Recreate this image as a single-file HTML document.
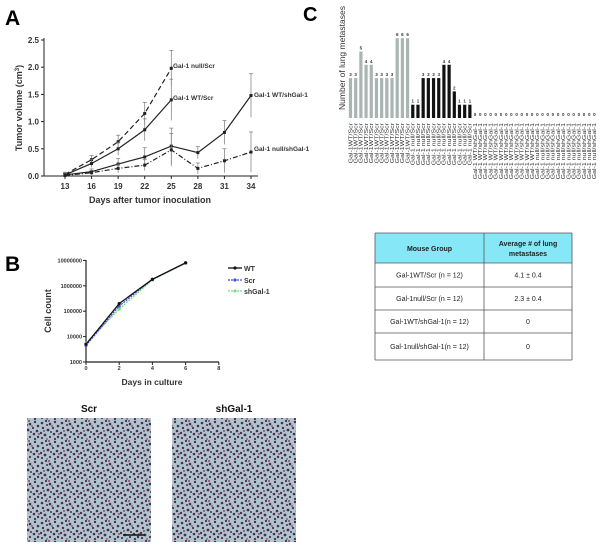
<!DOCTYPE html>
<html><head><meta charset="utf-8"><style>
html,body{margin:0;padding:0;background:#fff;}
svg{display:block;font-family:"Liberation Sans",Arial,sans-serif;}
</style></head><body>
<svg id="fig" width="600" height="547" viewBox="0 0 600 547" xmlns="http://www.w3.org/2000/svg">
<defs>
<pattern id="tissue" width="20" height="20" patternUnits="userSpaceOnUse">
<rect width="20" height="20" fill="#afc4cf"/>
<g fill="#4a2f4a">
<circle cx="2" cy="3" r="1.3"/><circle cx="6" cy="1" r="1.1"/><circle cx="10" cy="4" r="1.3"/><circle cx="15" cy="2" r="1.2"/><circle cx="18" cy="6" r="1.3"/>
<circle cx="3" cy="8" r="1.2"/><circle cx="8" cy="10" r="1.4"/><circle cx="13" cy="8" r="1.1"/><circle cx="17" cy="11" r="1.3"/><circle cx="1" cy="13" r="1.2"/>
<circle cx="5" cy="15" r="1.4"/><circle cx="10" cy="17" r="1.1"/><circle cx="14" cy="14" r="1.3"/><circle cx="18" cy="17" r="1.2"/><circle cx="2" cy="18" r="1.1"/>
<circle cx="11" cy="12" r="1"/><circle cx="15" cy="19" r="1.1"/><circle cx="7" cy="5" r="1"/>
</g>
<g fill="#8a4a62"><circle cx="9" cy="1" r="1"/><circle cx="19" cy="14" r="1"/><circle cx="4" cy="11" r="1"/><circle cx="12" cy="6" r="0.9"/><circle cx="7" cy="19" r="0.9"/></g>
</pattern>
</defs>
<g id="panelA"></g>
<g id="panelB"></g>
<g id="panelC"></g>
<g id="table"></g>
<g id="images"></g>
</svg>
<script>
// ---- Panel A data ----
const aDays = [13,16,19,22,25,28,31,34];
const aYTicks = [0,0.5,1.0,1.5,2.0,2.5];
const nullScr = [0.03,0.3,0.63,1.15,1.98];
const nullScrErr = [0.04,0.08,0.12,0.2,0.33];
const wtScr = [0.02,0.23,0.5,0.85,1.4];
const wtScrErr = [0.03,0.07,0.12,0.2,0.38];
const wtSh = [0.02,0.08,0.22,0.35,0.55,0.43,0.8,1.48];
const wtShErr = [0.02,0.05,0.1,0.17,0.33,0.11,0.22,0.4];
const nullSh = [0.01,0.06,0.14,0.2,0.48,0.14,0.28,0.44];
const nullShErr = [0.01,0.04,0.08,0.1,0.3,0.1,0.22,0.37];
// ---- Panel B data ----
const bDays = [0,2,4,6];
const bXTicks = [0,2,4,6,8];
const bYTicks = [1000,10000,100000,1000000,10000000];
const bWT = [5000,200000,1800000,8000000];
const bScr = [4500,160000,1800000,8000000];
const bSh = [5500,120000,1700000,8000000];
// ---- Panel C data ----
const cGroups = ["Gal-1WT/Scr","Gal-1 null/Scr","Gal-1 WT/shGal-1","Gal-1 null/shGal-1"];
const cGray = [3,3,5,4,4,3,3,3,3,6,6,6];
const cBlack = [1,1,3,3,3,3,4,4,2,1,1,1];
const cZeroWT = [0,0,0,0,0,0,0,0,0,0,0,0];
const cZeroNull = [0,0,0,0,0,0,0,0,0,0,0,0];
// ---- Table data ----
const tHeader = ["Mouse Group","Average # of lung|metastases"];
const tRows = [["Gal-1WT/Scr (n = 12)","4.1 ± 0.4"],["Gal-1null/Scr (n = 12)","2.3 ± 0.4"],["Gal-1WT/shGal-1(n = 12)","0"],["Gal-1null/shGal-1(n = 12)","0"]];

const NS="http://www.w3.org/2000/svg";
function mk(tag,attrs,parent,txt){const e=document.createElementNS(NS,tag);for(const k in attrs)e.setAttribute(k,attrs[k]);if(txt!==undefined)e.textContent=txt;parent.appendChild(e);return e;}

// ===== Panel A =====
(function(){
const g=document.getElementById('panelA');
const xA=d=>65+(d-13)*8.857, yA=v=>176-v*54.4;
let t=mk('text',{x:5,y:25,'font-size':21,'font-weight':'bold'},g,'A');


let ax=mk('path',{d:`M44 38V176H258`,stroke:'#222',fill:'none','stroke-width':1},g);


aYTicks.forEach(v=>{mk('line',{x1:41,x2:44,y1:yA(v),y2:yA(v),stroke:'#222'},g);
 const l=mk('text',{x:39,y:yA(v)+3,'font-size':8,'font-weight':'bold','text-anchor':'end',fill:'#333'},g,v.toFixed(1));
 
 });
aDays.forEach(d=>{mk('line',{x1:xA(d),x2:xA(d),y1:176,y2:179,stroke:'#222'},g);
 const l=mk('text',{x:xA(d),y:189,'font-size':8,'font-weight':'bold','text-anchor':'middle',fill:'#333'},g,d);
 
 });
t=mk('text',{x:150,y:203,'font-size':9,'font-weight':'bold','text-anchor':'middle',fill:'#333'},g,'Days after tumor inoculation');


t=mk('text',{transform:'translate(22,108) rotate(-90)','font-size':9,'font-weight':'bold','text-anchor':'middle',fill:'#333'},g);


t.innerHTML='Tumor volume (cm<tspan dy="-3" font-size="6">3</tspan><tspan dy="3">)</tspan>';
function series(vals,errs,dash,name){
 const s=mk('g',{},g);
 
 
 vals.forEach((v,i)=>{const x=xA(aDays[i]);
  mk('line',{x1:x,x2:x,y1:yA(v+errs[i]),y2:yA(Math.max(0,v-errs[i])),stroke:'#777','stroke-width':0.7},s);
  mk('line',{x1:x-2,x2:x+2,y1:yA(v+errs[i]),y2:yA(v+errs[i]),stroke:'#777','stroke-width':0.7},s);});
 mk('polyline',{points:vals.map((v,i)=>xA(aDays[i])+','+yA(v)).join(' '),fill:'none',stroke:'#222','stroke-width':1.2,'stroke-dasharray':dash},s);
 vals.forEach((v,i)=>mk('rect',{x:xA(aDays[i])-1.5,y:yA(v)-1.5,width:3,height:3,fill:'#222'},s));
}
series(nullScr,nullScrErr,'5,3','series-null-scr');
series(wtScr,wtScrErr,'none','series-wt-scr');
series(wtSh,wtShErr,'none','series-wt-shgal1');
series(nullSh,nullShErr,'5,2,1,2','series-null-shgal1');
[['Gal-1 null/Scr',173,68],['Gal-1 WT/Scr',173,100],['Gal-1 WT/shGal-1',254,97],['Gal-1 null/shGal-1',254,151]].forEach(a=>{
 const l=mk('text',{x:a[1],y:a[2],'font-size':6.5,'font-weight':'bold',fill:'#333'},g,a[0]);
 
 });
})();

// ===== Panel B =====
(function(){
const g=document.getElementById('panelB');
const xB=d=>86+d*16.6, yB=v=>362-(Math.log10(v)-3)*25.4;
let t=mk('text',{x:5,y:271,'font-size':21,'font-weight':'bold'},g,'B');


let ax=mk('path',{d:'M86 260V362H219',stroke:'#222',fill:'none','stroke-width':1.2},g);


bYTicks.forEach(v=>{mk('line',{x1:83,x2:86,y1:yB(v),y2:yB(v),stroke:'#222'},g);
 const l=mk('text',{x:82,y:yB(v)+2,'font-size':5.5,'font-weight':'bold','text-anchor':'end',fill:'#333'},g,v);
 
 });
bXTicks.forEach(d=>{mk('line',{x1:xB(d),x2:xB(d),y1:362,y2:365,stroke:'#222'},g);
 const l=mk('text',{x:xB(d),y:370,'font-size':5.5,'font-weight':'bold','text-anchor':'middle',fill:'#333'},g,d);
 
 });
t=mk('text',{x:152,y:385,'font-size':8.5,'font-weight':'bold','text-anchor':'middle',fill:'#333'},g,'Days in culture');


t=mk('text',{transform:'translate(51,311) rotate(-90)','font-size':9,'font-weight':'bold','text-anchor':'middle',fill:'#333'},g,'Cell count');


function ser(vals,col,dash,name){
 const s=mk('g',{},g);
 
 
 mk('polyline',{points:vals.map((v,i)=>xB(bDays[i])+','+yB(v)).join(' '),fill:'none',stroke:col,'stroke-width':1.3,'stroke-dasharray':dash},s);
 vals.forEach((v,i)=>mk('circle',{cx:xB(bDays[i]),cy:yB(v),r:1.6,fill:col},s));
}
ser(bSh,'#7be07b','2,1','series-shgal1');
ser(bScr,'#4a4ae0','2,1','series-scr');
ser(bWT,'#111','none','series-wt');
[['WT','#111',268,'none'],['Scr','#4a4ae0',280,'2,1'],['shGal-1','#7be07b',291,'2,1']].forEach(a=>{
 const e=mk('g',{},g);
 
 
 mk('line',{x1:228,x2:242,y1:a[2],y2:a[2],stroke:a[1],'stroke-width':1.3,'stroke-dasharray':a[3]},e);
 mk('circle',{cx:235,cy:a[2],r:1.6,fill:a[1]},e);
 mk('text',{x:244,y:a[2]+3,'font-size':7,'font-weight':'bold',fill:'#333'},e,a[0]);});
})();

// ===== Panel C =====
(function(){
const g=document.getElementById('panelC');
const base=118, unit=13.3;
const xC=i=>350.5+i*5.19;
let t=mk('text',{x:303,y:21,'font-size':20,'font-weight':'bold'},g,'C');


t=mk('text',{transform:'translate(345,58) rotate(-90)','font-size':8.5,'text-anchor':'middle',fill:'#333'},g,'Number of lung metastases');


const all=[];
cGray.forEach(v=>all.push([v,'#a9b5b3',0]));
cBlack.forEach(v=>all.push([v,'#111',1]));
cZeroWT.forEach(v=>all.push([v,'#111',2]));
cZeroNull.forEach(v=>all.push([v,'#111',3]));
all.forEach((a,i)=>{
 const x=xC(i), h=a[0]*unit;
 if(h>0){const b=mk('rect',{x:x-1.6,y:base-h,width:3.2,height:h,fill:a[1]},g);
  
  }
 const l=mk('text',{x:x,y:base-h-2,'font-size':4.5,'font-weight':'bold','text-anchor':'middle',fill:'#333'},g,a[0]);
 
 
 const c=mk('text',{transform:`translate(${x+1.8},123) rotate(-90) scale(1.35,1)`,'font-size':5.2,'text-anchor':'end',fill:'#333'},g,cGroups[a[2]]);
 
 
});
})();

// ===== Table =====
(function(){
const g=document.getElementById('table');
const L=375,R=572,M=484,rowsY=[233,263,287,310,333,360];
mk('rect',{x:L,y:rowsY[0],width:R-L,height:rowsY[1]-rowsY[0],fill:'#86e8f6'},g);
rowsY.forEach(y=>mk('line',{x1:L,x2:R,y1:y,y2:y,stroke:'#555','stroke-width':0.8},g));
[L,M,R].forEach(x=>mk('line',{x1:x,x2:x,y1:rowsY[0],y2:rowsY[5],stroke:'#555','stroke-width':0.8},g));
let h=mk('text',{x:(L+M)/2,y:251,'font-size':7,'font-weight':'bold','text-anchor':'middle',fill:'#222'},g,tHeader[0]);


const hp=tHeader[1].split('|');
h=mk('text',{x:(M+R)/2,y:246,'font-size':7,'font-weight':'bold','text-anchor':'middle',fill:'#222'},g,hp[0]);


mk('text',{x:(M+R)/2,y:256,'font-size':7,'font-weight':'bold','text-anchor':'middle',fill:'#222'},g,hp[1]);
tRows.forEach((r,i)=>{const y=(rowsY[i+1]+rowsY[i+2])/2+2.5;
 const a=mk('text',{x:(L+M)/2,y:y,'font-size':7,'text-anchor':'middle',fill:'#222'},g,r[0]);
 
 
 const b=mk('text',{x:(M+R)/2,y:y,'font-size':7,'text-anchor':'middle',fill:'#222'},g,r[1]);
 
 });
})();

// ===== Images =====
(function(){
const g=document.getElementById('images');
[['Scr',27,'histology-scr'],['shGal-1',172,'histology-shgal1']].forEach(a=>{
 const t=mk('text',{x:a[1]+62,y:412,'font-size':10,'font-weight':'bold','text-anchor':'middle',fill:'#111'},g,a[0]);
 
 
 const r=mk('rect',{x:a[1],y:418,width:124,height:124,fill:'url(#tissue)'},g);
 
 });
const sb=mk('line',{x1:123,x2:145,y1:535,y2:535,stroke:'#111','stroke-width':1.5},g);


})();
</script>
</body></html>
